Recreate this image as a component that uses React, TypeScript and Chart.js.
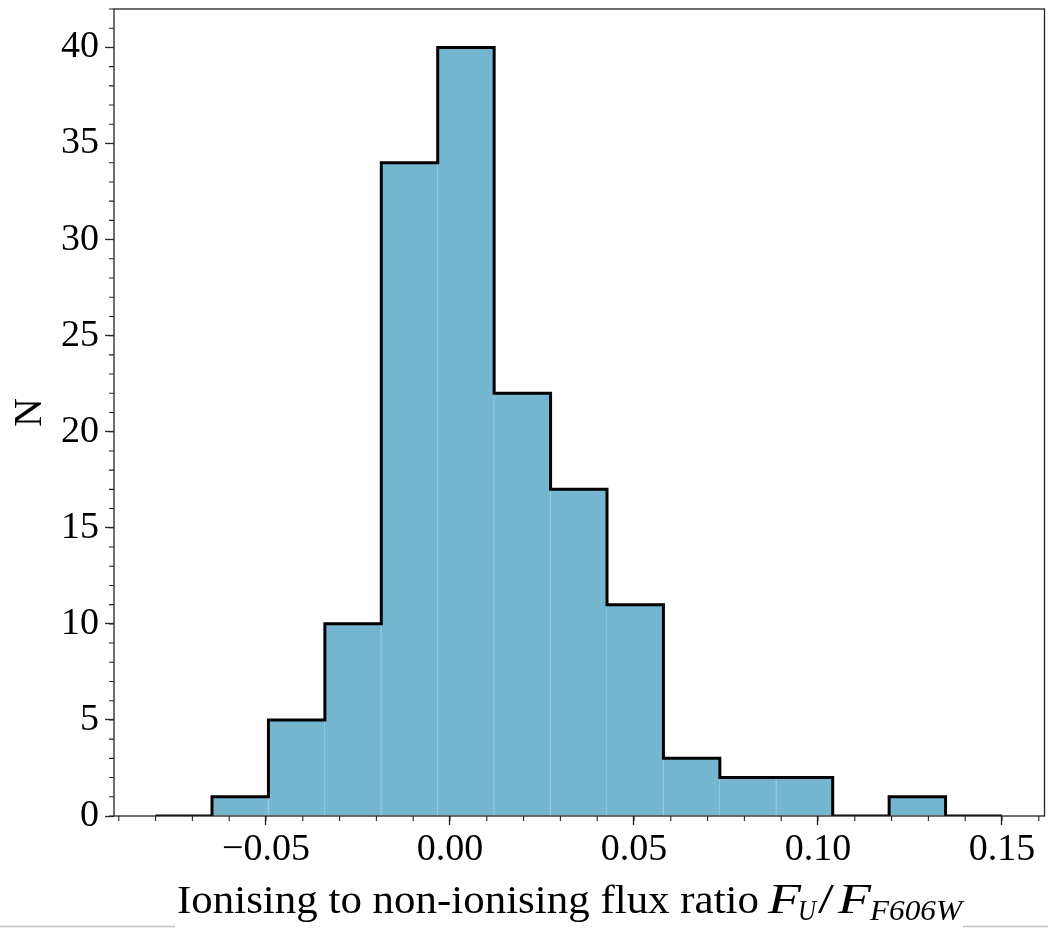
import React, { useEffect, useRef } from "react";
import { Chart, registerables } from "chart.js";

Chart.register(...registerables);

// ---- data ----
const binEdges = [
  -0.08, -0.064667, -0.049333, -0.034, -0.018667, -0.003333, 0.012, 0.027333,
  0.042667, 0.058, 0.073333, 0.088667, 0.104, 0.119333, 0.134667, 0.15,
];
const counts = [0, 1, 5, 10, 34, 40, 22, 17, 11, 3, 2, 2, 0, 1, 0];

const xMajorTicks = [-0.05, 0, 0.05, 0.1, 0.15];
const xTickLabels = ["\u22120.05", "0.00", "0.05", "0.10", "0.15"];
const yMajorTicks = [0, 5, 10, 15, 20, 25, 30, 35, 40];
const yTickLabels = ["0", "5", "10", "15", "20", "25", "30", "35", "40"];
const xMinorStep = 0.01;
const yMinorStep = 1;
const xRange = [-0.0913, 0.16155];
const yRange = [0, 42];

const xLabelText = "Ionising to non-ionising flux ratio";
const yLabelText = "N";

const FILL = "rgb(116,182,208)";
const AXIS = "#222";
const SERIF = '"Liberation Serif", "Times New Roman", serif';

function drawFit(ctx: CanvasRenderingContext2D, text: string, font: string, x: number, y: number, width: number) {
  ctx.font = font;
  const w = ctx.measureText(text).width;
  ctx.save();
  ctx.translate(x, y);
  ctx.scale(width / w, 1);
  ctx.fillText(text, 0, 0);
  ctx.restore();
}

const decorPlugin = {
  id: "decor",
  afterDraw(chart: any) {
    const { ctx, chartArea } = chart;
    const xs = chart.scales.x;
    const ys = chart.scales.y;
    ctx.save();
    // box
    ctx.strokeStyle = AXIS;
    ctx.lineWidth = 1.3;
    ctx.strokeRect(chartArea.left, chartArea.top, chartArea.right - chartArea.left, chartArea.bottom - chartArea.top);
    // minor ticks
    ctx.lineWidth = 1.1;
    ctx.beginPath();
    for (let v = Math.ceil(xRange[0] / xMinorStep) * xMinorStep; v <= xRange[1] + 1e-9; v += xMinorStep) {
      const px = xs.getPixelForValue(v);
      ctx.moveTo(px, chartArea.bottom);
      ctx.lineTo(px, chartArea.bottom + 5);
    }
    for (let v = yRange[0]; v <= yRange[1] + 1e-9; v += yMinorStep) {
      const py = ys.getPixelForValue(v);
      ctx.moveTo(chartArea.left, py);
      ctx.lineTo(chartArea.left - 5, py);
    }
    ctx.stroke();

    // x label with math
    ctx.fillStyle = "#000";
    ctx.textBaseline = "alphabetic";
    ctx.textAlign = "left";
    const base = 913;
    const fMain = `41px ${SERIF}`;
    const fIt = `italic 43px ${SERIF}`;
    const fSub = `italic 29px ${SERIF}`;
    drawFit(ctx, xLabelText, fMain, 177, base, 582);
    drawFit(ctx, "F", fIt, 768, base, 33);
    drawFit(ctx, "U", fSub, 798, base + 7, 18);
    ctx.font = `43px ${SERIF}`;
    drawFit(ctx, "/", `43px ${SERIF}`, 818, base, 16);
    drawFit(ctx, "F", fIt, 838, base, 33);
    drawFit(ctx, "F606W", fSub, 870, base + 7, 92);

    // y label
    ctx.save();
    ctx.translate(30, (chartArea.top + chartArea.bottom) / 2);
    ctx.rotate(-Math.PI / 2);
    ctx.font = `40px ${SERIF}`;
    ctx.textAlign = "center";
    ctx.textBaseline = "middle";
    ctx.fillText(yLabelText, 0, 0);
    ctx.restore();

    // thin grey edge lines at the bottom of the picture
    ctx.strokeStyle = "#c4c4c4";
    ctx.lineWidth = 1.5;
    ctx.beginPath();
    ctx.moveTo(0, 926.5);
    ctx.lineTo(175, 926.5);
    ctx.moveTo(963, 926.5);
    ctx.lineTo(1048, 926.5);
    ctx.stroke();

    ctx.restore();
  },
};

export default function App() {
  const ref = useRef<HTMLCanvasElement | null>(null);
  useEffect(() => {
    if (!ref.current) return;
    const centers = counts.map((_, i) => (binEdges[i] + binEdges[i + 1]) / 2);
    const barData = counts.map((c, i) => ({ x: centers[i], y: c }));
    const stepData = binEdges.map((e, i) => ({ x: e, y: counts[Math.min(i, counts.length - 1)] }));
    const chart = new Chart(ref.current, {
      type: "bar",
      data: {
        datasets: [
          {
            type: "line",
            data: stepData,
            stepped: "before",
            borderColor: "#000",
            borderWidth: 3,
            borderJoinStyle: "miter",
            pointRadius: 0,
            fill: false,
            order: 0,
          } as any,
          {
            type: "bar",
            data: barData,
            backgroundColor: FILL,
            borderColor: "rgba(150,205,225,1)",
            borderWidth: { left: 0, right: 1, top: 0, bottom: 0 },
            borderSkipped: false,
            barPercentage: 1,
            categoryPercentage: 1,
            order: 1,
          } as any,
        ],
      },
      options: {
        animation: false,
        responsive: false,
        devicePixelRatio: 1,
        layout: { padding: { top: 9, right: 3.5, left: 0, bottom: 0 } },
        plugins: { legend: { display: false }, tooltip: { enabled: false } },
        scales: {
          x: {
            type: "linear",
            min: xRange[0],
            max: xRange[1],
            offset: false,
            afterBuildTicks: (s: any) => {
              s.ticks = xMajorTicks.map((v) => ({ value: v }));
            },
            afterFit: (s: any) => {
              s.height = 112;
              s.paddingLeft = 0;
              s.paddingRight = 0;
            },
            ticks: {
              autoSkip: false,
              maxRotation: 0,
              padding: 2,
              color: "#000",
              font: { family: SERIF, size: 38 },
              callback: (_v: any, i: number) => xTickLabels[i],
            },
            grid: {
              drawOnChartArea: false,
              offset: false,
              tickLength: 9,
              tickWidth: 1.3,
              tickColor: AXIS,
            },
            border: { display: false },
          },
          y: {
            type: "linear",
            min: yRange[0],
            max: yRange[1],
            afterBuildTicks: (s: any) => {
              s.ticks = yMajorTicks.map((v) => ({ value: v }));
            },
            afterFit: (s: any) => {
              s.width = 114;
              s.paddingTop = 0;
              s.paddingBottom = 0;
            },
            ticks: {
              autoSkip: false,
              padding: 6,
              color: "#000",
              font: { family: SERIF, size: 38 },
              callback: (_v: any, i: number) => yTickLabels[i],
            },
            grid: {
              drawOnChartArea: false,
              tickLength: 9,
              tickWidth: 1.3,
              tickColor: AXIS,
            },
            border: { display: false },
          },
        },
      } as any,
      plugins: [decorPlugin],
    });
    return () => chart.destroy();
  }, []);
  return (
    <div style={{ position: "fixed", left: 0, top: 0, width: 1048, height: 928, background: "#fff" }}>
      <canvas ref={ref} width={1048} height={928} />
    </div>
  );
}
